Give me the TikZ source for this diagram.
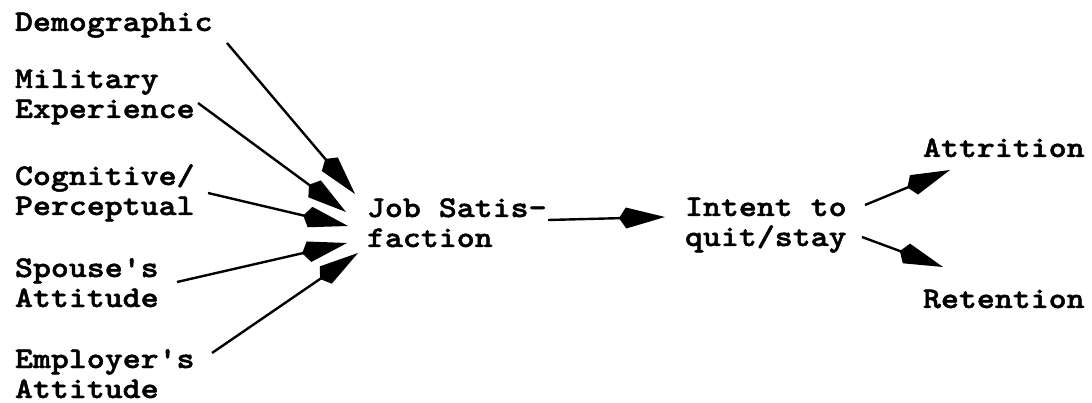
\documentclass[tikz,border=0pt]{standalone}
\usepackage{fontspec}
\newfontfamily\labelfont{Latin Modern Mono Light}[FakeStretch=1.14, FakeBold=1.6]
\usetikzlibrary{arrows.meta}
\tikzset{
  lbl/.style={anchor=base west, inner sep=0pt, outer sep=0pt,
    font=\labelfont\bfseries\fontsize{30}{30}\selectfont, align=left},
  flow/.style={line width=2.4pt, -{Kite[length=46pt,width=21pt,inset=7pt]}}
}
\begin{document}
\begin{tikzpicture}[x=1pt,y=-1pt]
\useasboundingbox (0,0) rectangle (1092,403);

% influences on job satisfaction (positions give the last baseline)
\node[lbl] (demo) at (15,31) {Demographic};
\node[lbl] (mil)  at (15,118) {Military\\Experience};
\node[lbl] (cog)  at (15,215) {Cognitive/\\Perceptual};
\node[lbl] (sp)   at (15,307) {Spouse's\\Attitude};
\node[lbl] (emp)  at (15,398) {Employer's\\Attitude};

% central chain
\node[lbl] (js)   at (367,247) {Job Satis-\\faction};
\node[lbl] (itq)  at (685,246) {Intent to\\quit/stay};

% outcomes
\node[lbl] (att)  at (923,157) {Attrition};
\node[lbl] (ret)  at (923,308) {Retention};

% arrow end points
\coordinate (demo-o) at (227,43);
\coordinate (mil-o)  at (198,103);
\coordinate (cog-o)  at (208,193);
\coordinate (sp-o)   at (177,282);
\coordinate (emp-o)  at (212,353);
\coordinate (js-1)   at (355,194);
\coordinate (js-2)   at (346,212);
\coordinate (js-3)   at (348,226);
\coordinate (js-4)   at (347,243);
\coordinate (js-5)   at (358,253);
\coordinate (js-o)   at (548,220);
\coordinate (itq-i)  at (665,217);
\coordinate (itq-o1) at (865,205);
\coordinate (itq-o2) at (862,237);
\coordinate (att-i)  at (950,170);
\coordinate (ret-i)  at (943,267);

\draw[flow] (demo-o) -- (js-1);
\draw[flow] (mil-o)  -- (js-2);
\draw[flow] (cog-o)  -- (js-3);
\draw[flow] (sp-o)   -- (js-4);
\draw[flow] (emp-o)  -- (js-5);
\draw[flow] (js-o)   -- (itq-i);
\draw[flow] (itq-o1) -- (att-i);
\draw[flow] (itq-o2) -- (ret-i);
\end{tikzpicture}
\end{document}
